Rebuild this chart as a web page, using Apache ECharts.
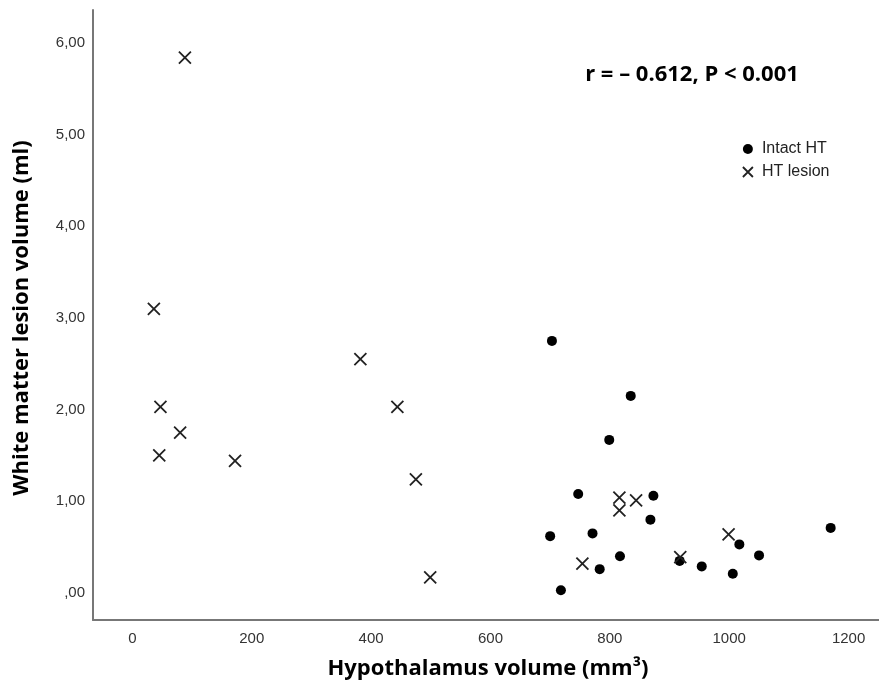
<!DOCTYPE html>
<html>
<head>
<meta charset="utf-8">
<script src="https://cdn.jsdelivr.net/npm/echarts@6/dist/echarts.min.js"></script>
<style>
html,body{margin:0;padding:0;background:#fff;}
#chart{width:879px;height:684px;}
</style>
</head>
<body>
<div id="chart"></div>
<script>
// Intact HT (filled dots)
const intactX = [703, 835, 799, 747, 873, 868, 700, 771, 817, 783, 718, 917, 954, 1017, 1050, 1006, 1170];
const intactY = [2.75, 2.15, 1.67, 1.08, 1.06, 0.80, 0.62, 0.65, 0.40, 0.26, 0.03, 0.35, 0.29, 0.53, 0.41, 0.21, 0.71];
// HT lesion (crosses)
const lesionX = [88, 36, 47, 80, 45, 172, 382, 444, 475, 499, 816, 844, 816, 754, 918, 999];
const lesionY = [5.84, 3.10, 2.03, 1.75, 1.50, 1.44, 2.55, 2.03, 1.24, 0.17, 1.04, 1.01, 0.90, 0.32, 0.39, 0.64];

const xTickValues = [0, 200, 400, 600, 800, 1000, 1200];
const xTickLabels = ['0', '200', '400', '600', '800', '1000', '1200'];
const yTickValues = [0, 1, 2, 3, 4, 5, 6];
const yTickLabels = [',00', '1,00', '2,00', '3,00', '4,00', '5,00', '6,00'];

const seriesNames = ['Intact HT', 'HT lesion'];
const xTitle = 'Hypothalamus volume (mm\u00B3)';
const yTitle = 'White matter lesion volume (ml)';
const annotation = 'r = \u2013 0.612, P < 0.001';

const crossPath = 'path://M0,0L10,10M10,0L0,10';

const chart = echarts.init(document.getElementById('chart'), null, {renderer: 'canvas'});
const tickFont = {fontFamily: '"Liberation Sans", Arial, sans-serif', fontSize: 15, color: '#333'};

chart.setOption({
  animation: false,
  backgroundColor: '#fff',
  grid: {left: 93, right: 0, top: 10, bottom: 64, containLabel: false},
  xAxis: {
    type: 'value', min: -66, max: 1251,
    axisLine: {show: true, onZero: false, lineStyle: {color: '#777', width: 2}},
    axisTick: {show: false},
    splitLine: {show: false},
    axisLabel: Object.assign({
      customValues: xTickValues,
      margin: 11,
      formatter: v => xTickLabels[xTickValues.indexOf(v)]
    }, tickFont)
  },
  yAxis: {
    type: 'value', min: -0.295, max: 6.36,
    axisLine: {show: true, onZero: false, lineStyle: {color: '#777', width: 2}},
    axisTick: {show: false},
    splitLine: {show: false},
    axisLabel: Object.assign({
      customValues: yTickValues,
      margin: 8,
      formatter: v => yTickLabels[yTickValues.indexOf(v)]
    }, tickFont)
  },
  legend: {
    orient: 'vertical',
    left: 737, top: 136,
    itemWidth: 18, itemHeight: 10, itemGap: 7,
    textStyle: {fontFamily: '"Liberation Sans", Arial, sans-serif', fontSize: 16, color: '#222'},
    data: [
      {name: seriesNames[0], icon: 'circle', itemStyle: {color: '#000'}},
      {name: seriesNames[1], icon: crossPath, itemStyle: {color: 'rgba(0,0,0,0)', borderColor: '#222', borderWidth: 1.8}}
    ],
    symbolKeepAspect: true
  },
  series: [
    {
      name: seriesNames[0], type: 'scatter', symbol: 'circle', symbolSize: 10,
      itemStyle: {color: '#000', opacity: 1},
      data: intactX.map((x, i) => [x, intactY[i]])
    },
    {
      name: seriesNames[1], type: 'scatter', symbol: crossPath, symbolSize: 12,
      itemStyle: {color: 'rgba(0,0,0,0)', borderColor: '#222', borderWidth: 1.8, opacity: 1},
      data: lesionX.map((x, i) => [x, lesionY[i]])
    }
  ],
  graphic: [
    {type: 'text', x: 692, y: 75, style: {text: annotation, align: 'center', verticalAlign: 'middle',
      font: 'bold 22px "Open Sans", sans-serif', fill: '#000'}},
    {type: 'text', x: 488, y: 669, style: {text: xTitle, align: 'center', verticalAlign: 'middle',
      font: 'bold 22px "Open Sans", sans-serif', fill: '#000'}},
    {type: 'text', x: 22, y: 318, rotation: Math.PI / 2, style: {text: yTitle, align: 'center', verticalAlign: 'middle',
      font: 'bold 22px "Open Sans", sans-serif', fill: '#000'}}
  ]
});
</script>
</body>
</html>
